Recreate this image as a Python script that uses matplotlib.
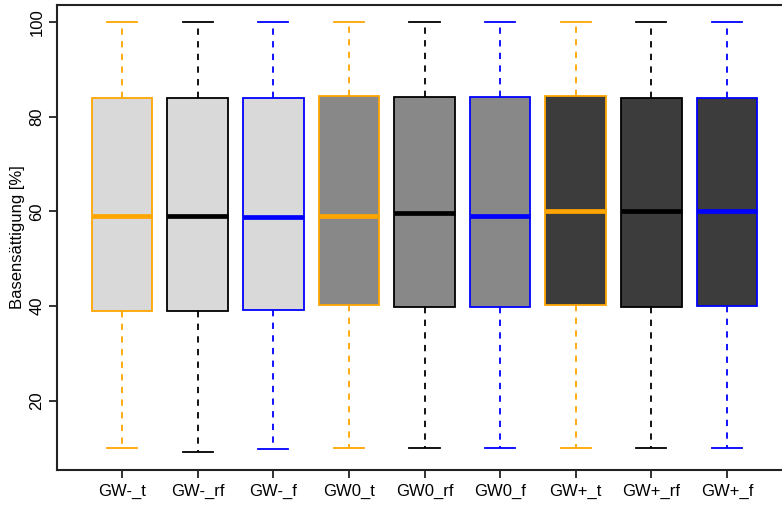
import matplotlib
matplotlib.use("Agg")
import matplotlib.pyplot as plt

# Werte
labels = ["GW-_t", "GW-_rf", "GW-_f", "GW0_t", "GW0_rf", "GW0_f", "GW+_t", "GW+_rf", "GW+_f"]
whislo = [10.0, 9.2, 9.7, 10.0, 10.0, 10.0, 10.0, 10.0, 10.1]
q1 = [39.0, 39.0, 39.1, 40.2, 39.8, 39.9, 40.3, 39.9, 40.1]
med = [59.0, 59.0, 58.9, 59.1, 59.7, 59.1, 60.0, 60.2, 60.1]
q3 = [84.0, 84.0, 84.0, 84.4, 84.2, 84.1, 84.4, 84.0, 84.0]
whishi = [100.0, 100.0, 100.0, 100.0, 100.0, 100.0, 100.0, 100.0, 100.0]

edge_colors = ["#FFA500", "black", "#0000FF"] * 3
fill_colors = ["#D9D9D9"] * 3 + ["#888888"] * 3 + ["#3C3C3C"] * 3

plt.rcParams["font.family"] = ["Liberation Sans", "DejaVu Sans"]

fig = plt.figure(figsize=(7.82, 5.05), dpi=100)
W, H = 782, 505
# rechte Achsenkante liegt ausserhalb des Bildes (Original ist beschnitten)
ax = fig.add_axes([57 / W, 35 / H, (792 - 57) / W, (470 - 5) / H])

stats = []
for i, lab in enumerate(labels):
    stats.append({"label": lab, "whislo": whislo[i], "q1": q1[i], "med": med[i],
                  "q3": q3[i], "whishi": whishi[i], "fliers": []})

bp = ax.bxp(stats, positions=range(1, len(labels) + 1), widths=0.8, capwidths=0.4,
            patch_artist=True, showfliers=False)

for i in range(len(labels)):
    c = edge_colors[i]
    bp["boxes"][i].set(facecolor=fill_colors[i], edgecolor=c, linewidth=1.3)
    bp["medians"][i].set(color=c, linewidth=3.4, solid_capstyle="butt")
    for w in bp["whiskers"][2 * i:2 * i + 2]:
        w.set(color=c, linewidth=1.3, linestyle=(0, (3.5, 3.5)))
    for cp in bp["caps"][2 * i:2 * i + 2]:
        cp.set(color=c, linewidth=1.3)

ax.set_xlim(0.14, 9.86)
ax.set_ylim(5.36, 103.64)
ax.set_yticks([20, 40, 60, 80, 100])
ax.set_yticklabels(["20", "40", "60", "80", "100"], rotation=90, va="center")
ax.set_xticks(range(1, len(labels) + 1))
ax.set_xticklabels(labels)
ax.tick_params(axis="both", labelsize=12, length=6, width=1.3, color="#222222")
ax.tick_params(axis="y", pad=3)
ax.tick_params(axis="x", pad=4)
ax.set_ylabel("Basensättigung [%]", fontsize=12, labelpad=3)

for s in ["left", "bottom", "top", "right"]:
    ax.spines[s].set_linewidth(1.5)
    ax.spines[s].set_color("#222222")

fig.savefig("out.png", dpi=100)
